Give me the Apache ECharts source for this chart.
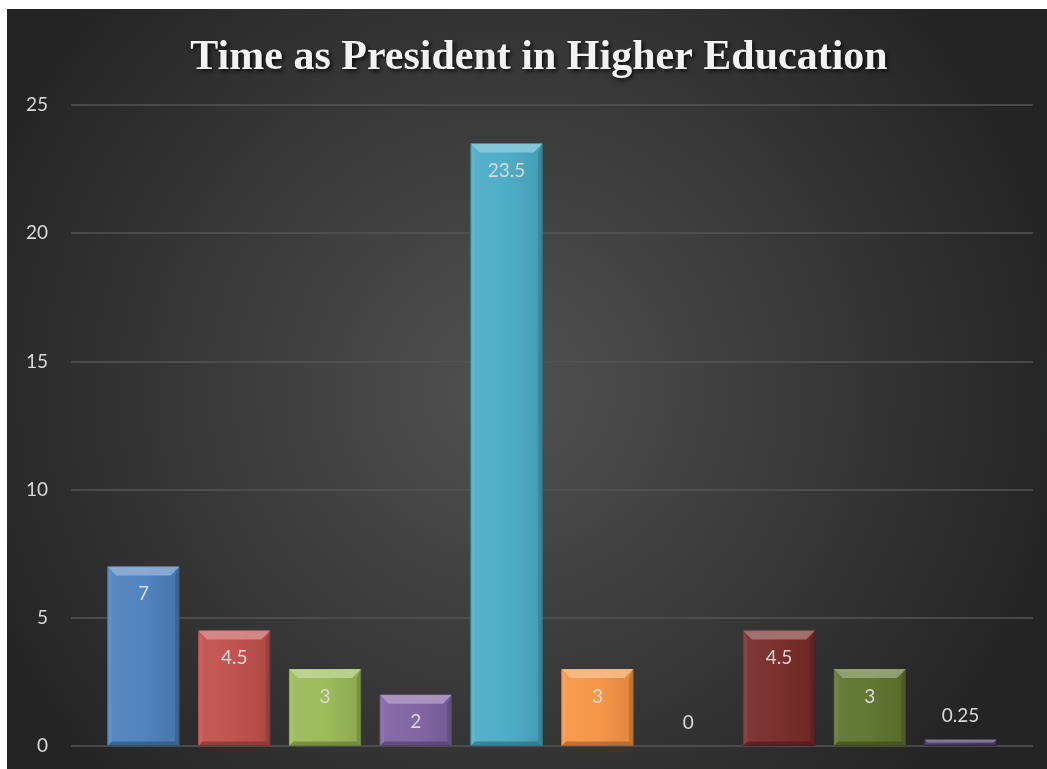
<!DOCTYPE html>
<html>
<head>
<meta charset="utf-8">
<script src="https://cdn.jsdelivr.net/npm/echarts@6/dist/echarts.min.js"></script>
<style>
html,body{margin:0;padding:0;background:#ffffff;}
#chart{position:absolute;left:7px;top:9px;width:1040px;height:760px;}
</style>
</head>
<body>
<div id="chart"></div>
<script>
const titleText = 'Time as President in Higher Education';
const categories = ['A','B','C','D','E','F','G','H','I','J'];
const values = [7, 4.5, 3, 2, 23.5, 3, 0, 4.5, 3, 0.25];
const barColors = ['#4F81BD','#C0504D','#9BBB59','#8064A2','#4BACC6','#F79646','#2C4D75','#772C2A','#5F7530','#4D3B62'];
const yTicks = [0, 5, 10, 15, 20, 25];

function shade(hex, f) {
  const n = parseInt(hex.slice(1), 16);
  let r = (n >> 16) & 255, g = (n >> 8) & 255, b = n & 255;
  if (f >= 0) { r += (255 - r) * f; g += (255 - g) * f; b += (255 - b) * f; }
  else { r *= (1 + f); g *= (1 + f); b *= (1 + f); }
  return 'rgb(' + Math.round(r) + ',' + Math.round(g) + ',' + Math.round(b) + ')';
}

const chart = echarts.init(document.getElementById('chart'), null, {renderer: 'canvas'});
const labelFont = 'Lato, "Open Sans", sans-serif';

const barData = values.map((v, i) => ({
  value: v,
  itemStyle: {
    color: {
      type: 'linear', x: 0, y: 0, x2: 1, y2: 0,
      colorStops: [
        {offset: 0, color: shade(barColors[i], 0.06)},
        {offset: 0.5, color: shade(barColors[i], 0.02)},
        {offset: 1, color: shade(barColors[i], -0.1)}
      ]
    },
    borderColor: shade(barColors[i], -0.35),
    borderWidth: v > 0 ? 1 : 0
  },
  label: v < 1 ? {position: 'top', distance: 14} : {position: 'insideTop', distance: 18}
}));

chart.setOption({
  backgroundColor: {
    type: 'radial', x: 0.48, y: 0.5, r: 0.75,
    colorStops: [
      {offset: 0, color: '#515151'},
      {offset: 1, color: '#242424'}
    ]
  },
  title: {
    text: titleText,
    left: 527,
    top: 23,
    textAlign: 'center',
    textStyle: {
      fontFamily: '"Liberation Serif", "Times New Roman", serif',
      fontWeight: 'bold',
      fontSize: 42,
      color: '#f2f2f2',
      textShadowColor: 'rgba(0,0,0,0.8)',
      textShadowBlur: 4,
      textShadowOffsetX: 2,
      textShadowOffsetY: 2
    }
  },
  grid: [
    {left: 64, right: 14, top: 96, bottom: 23},
    {left: 91, right: 41, top: 96, bottom: 23}
  ],
  xAxis: [
    {type: 'category', gridIndex: 0, data: categories, show: false},
    {type: 'category', gridIndex: 1, data: categories,
     axisLine: {show: false}, axisTick: {show: false}, axisLabel: {show: false}}
  ],
  yAxis: [
    {type: 'value', gridIndex: 0, min: yTicks[0], max: yTicks[yTicks.length - 1], interval: 5,
     axisLine: {show: false}, axisTick: {show: false},
     axisLabel: {color: '#d9d9d9', fontSize: 19, fontFamily: labelFont, margin: 23},
     splitLine: {lineStyle: {color: '#555555', width: 1.5}}},
    {type: 'value', gridIndex: 1, min: yTicks[0], max: yTicks[yTicks.length - 1], interval: 5,
     show: false, splitLine: {show: false}}
  ],
  series: [{
    type: 'bar',
    xAxisIndex: 1,
    yAxisIndex: 1,
    data: barData,
    barCategoryGap: '20.5%',
    label: {
      show: true,
      color: '#d9d9d9',
      fontSize: 19,
      fontFamily: labelFont
    }
  }, {
    type: 'custom',
    xAxisIndex: 1,
    yAxisIndex: 1,
    silent: true,
    z: 3,
    data: values.map((v, i) => [i, v]),
    renderItem: function (params, api) {
      const i = api.value(0);
      const v = api.value(1);
      if (v <= 0) return null;
      const top = api.coord([i, v]);
      const base = api.coord([i, 0]);
      const w = api.size([1, 0])[0] * 0.795;
      const x0 = top[0] - w / 2, x1 = top[0] + w / 2;
      const y0 = top[1], y1 = base[1];
      const h = y1 - y0;
      const b = Math.min(9, h / 2.2, w / 4);
      const c = barColors[i];
      return {
        type: 'group',
        children: [
          {type: 'polygon', shape: {points: [[x0, y0], [x1, y0], [x1 - b, y0 + b], [x0 + b, y0 + b]]},
           style: {fill: shade(c, 0.35), opacity: 0.9}},
          {type: 'polygon', shape: {points: [[x0, y0], [x0 + b * 0.5, y0 + b], [x0 + b * 0.5, y1 - b * 0.5], [x0, y1]]},
           style: {fill: shade(c, 0.15), opacity: 0.6}},
          {type: 'polygon', shape: {points: [[x1, y0], [x1 - b * 0.5, y0 + b], [x1 - b * 0.5, y1 - b * 0.5], [x1, y1]]},
           style: {fill: shade(c, -0.3), opacity: 0.6}},
          {type: 'polygon', shape: {points: [[x0, y1], [x1, y1], [x1 - b * 0.5, y1 - b * 0.5], [x0 + b * 0.5, y1 - b * 0.5]]},
           style: {fill: shade(c, -0.35), opacity: 0.7}}
        ]
      };
    }
  }]
});
</script>
</body>
</html>
